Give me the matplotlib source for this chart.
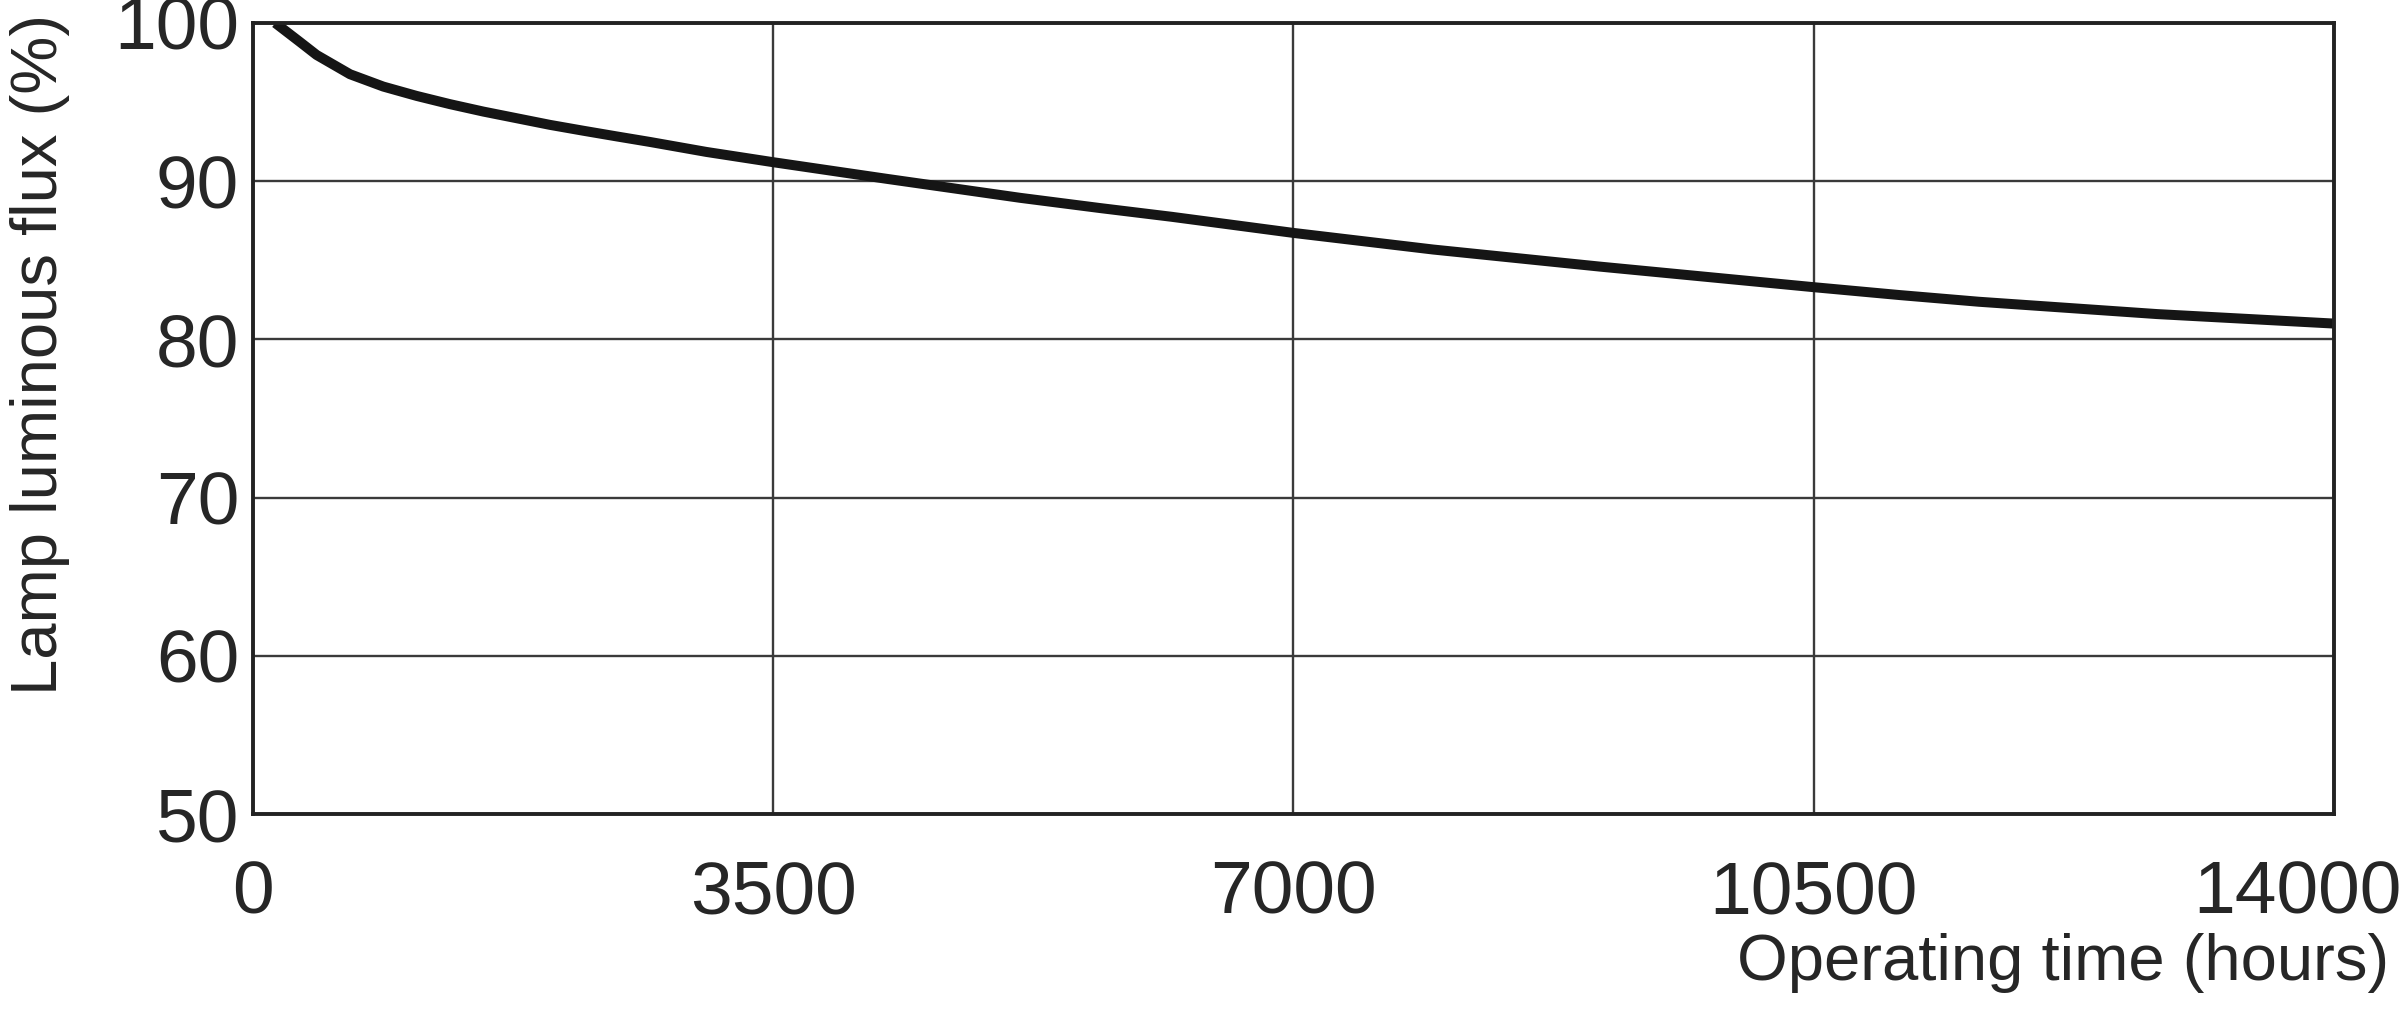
import matplotlib
matplotlib.use("Agg")
import matplotlib.pyplot as plt
from matplotlib.transforms import ScaledTranslation

# Data
hours = [150, 316, 428, 653, 877, 1101, 1325, 1550, 1774, 1998, 2222, 2447,
         2671, 3050, 3500, 4263, 4712, 5160, 5700, 6180, 7000, 7940, 9062,
         10500, 11080, 11610, 12810, 14000]
flux = [100.0, 98.8, 97.98, 96.76, 95.98, 95.39, 94.87, 94.4, 93.98, 93.56, 93.19, 92.83,
        92.48, 91.85, 91.2, 90.15, 89.55, 88.95, 88.3, 87.75, 86.73, 85.68, 84.6,
        83.3, 82.8, 82.38, 81.6, 81.0]

x_ticks = [0, 3500, 7000, 10500, 14000]
x_tick_labels = ["0", "3500", "7000", "10500", "14000"]
y_ticks = [50, 60, 70, 80, 90, 100]
y_tick_labels = ["50", "60", "70", "80", "90", "100"]

plt.rcParams['font.family'] = ['Liberation Sans', 'DejaVu Sans']

fig = plt.figure(figsize=(24, 10.17), dpi=100)
ax = fig.add_axes([0.1054, 0.1996, 0.9725 - 0.1054, 0.9774 - 0.1996])

ax.set_xlim(0, 14000)
ax.set_ylim(50, 100)
ax.set_xticks(x_ticks)
ax.set_xticklabels(x_tick_labels)
ax.set_yticks(y_ticks)
ax.set_yticklabels(y_tick_labels)

ax.grid(True, color="#3a3a3a", linewidth=1.7)
ax.set_axisbelow(True)

ax.plot(hours, flux, color="#151515", linewidth=7.2, solid_capstyle="butt",
        solid_joinstyle="round", zorder=3, clip_on=True)

for s in ax.spines.values():
    s.set_linewidth(2.8)
    s.set_color("#222222")
    s.set_zorder(4)

ax.tick_params(axis="both", length=0, labelsize=54, colors="#262626")
ax.tick_params(axis="x", pad=33)
ax.tick_params(axis="y", pad=10)

# last x tick label is pulled left in the reference so it stays inside the figure
last = ax.get_xticklabels()[-1]
last.set_transform(last.get_transform() + ScaledTranslation(-0.37, 0, fig.dpi_scale_trans))

fig.text(0.9955, 0.036, "Operating time (hours)", ha="right", va="baseline",
         fontsize=47, color="#262626")
fig.text(0.0168, 0.651, "Lamp luminous flux (%)", ha="center", va="center",
         rotation=90, fontsize=47, color="#262626")

fig.savefig("out.png", dpi=100, facecolor="white")
